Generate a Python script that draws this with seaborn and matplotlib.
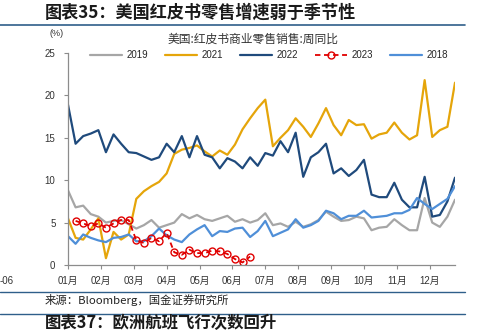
import numpy as np
import pandas as pd
import matplotlib
matplotlib.use('Agg')
import matplotlib.pyplot as plt
import seaborn as sns
from matplotlib.lines import Line2D

# ---------------- data (weekly YoY, %) ----------------
weeks = list(range(52))
weeks_2023 = list(range(1, 25))

y2019 = [8.8, 6.8, 7.0, 6.0, 5.7, 5.0, 5.2, 5.3, 4.8, 4.3, 4.7, 5.3, 4.4, 4.7, 5.0, 6.0,
         5.5, 5.9, 5.4, 5.2, 5.5, 5.8, 5.1, 5.4, 5.0, 5.3, 6.1, 4.7, 4.9, 4.5, 5.1, 4.5,
         4.8, 5.3, 6.3, 5.7, 5.2, 5.3, 5.7, 5.5, 4.1, 4.4, 4.5, 5.4, 4.7, 4.1, 4.1, 7.9,
         5.0, 4.5, 5.7, 7.7]
y2021 = [5.5, 3.2, 3.0, 4.2, 5.5, 0.8, 3.9, 3.0, 3.6, 7.8, 8.7, 9.3, 9.8, 10.8, 13.1, 13.6,
         13.8, 14.1, 13.4, 12.8, 13.5, 13.0, 14.2, 16.0, 17.3, 18.5, 19.5, 14.0, 15.0, 15.9,
         17.3, 16.3, 15.1, 16.7, 18.5, 16.5, 15.3, 17.1, 16.5, 16.6, 14.9, 15.4, 15.6, 16.8,
         15.6, 14.8, 15.3, 21.8, 15.1, 15.9, 16.3, 21.5]
y2022 = [18.9, 14.3, 15.2, 15.5, 15.9, 13.3, 15.4, 14.3, 13.3, 13.2, 12.8, 12.4, 12.7, 14.3,
         13.3, 15.2, 12.7, 15.2, 13.0, 12.7, 11.4, 12.6, 12.2, 11.4, 12.7, 11.7, 13.2, 12.9,
         14.6, 13.3, 15.6, 10.4, 12.7, 13.3, 14.3, 10.8, 11.4, 10.5, 11.2, 12.4, 8.3, 8.0,
         8.0, 9.7, 7.7, 6.8, 6.8, 10.4, 5.7, 5.9, 7.5, 10.3]
y2023 = [5.2, 4.9, 4.6, 4.9, 4.4, 4.9, 5.3, 5.3, 2.9, 2.6, 3.2, 2.8, 3.8, 1.5, 1.2, 1.8,
         1.4, 1.4, 1.7, 1.6, 1.3, 0.7, 0.3, 1.0]
y2018 = [3.4, 2.5, 3.6, 3.2, 2.9, 2.7, 3.2, 3.3, 3.6, 2.8, 2.8, 3.4, 4.3, 3.5, 3.0, 2.7,
         3.6, 4.2, 4.7, 3.4, 4.0, 3.9, 4.3, 4.4, 3.3, 4.0, 5.2, 3.4, 3.8, 4.2, 5.4, 4.4,
         4.7, 5.2, 6.4, 6.1, 5.4, 5.8, 5.8, 6.4, 5.6, 5.7, 5.8, 6.1, 6.1, 6.5, 7.9, 7.2,
         6.6, 7.2, 7.8, 9.3]

month_labels = ['01月', '02月', '03月', '04月', '05月', '06月',
                '07月', '08月', '09月', '10月', '11月', '12月']
y_ticks = [0, 5, 10, 15, 20, 25]

# ---------------- style ----------------
sns.set_theme(style='white')
plt.rcParams['font.family'] = ['Liberation Sans', 'Noto Sans CJK SC', 'DejaVu Sans']

W, H = 478, 333
fig = plt.figure(figsize=(W / 100, H / 100), dpi=100)
fig.patch.set_facecolor('white')

def fx(px):
    return px / W

def fy(py):
    return 1 - py / H

ax = fig.add_axes([fx(68), fy(265), fx(455) - fx(68), fy(53) - fy(265)])

c2019 = '#A6A6A6'
c2021 = '#E5A50A'
c2022 = '#1F4A7C'
c2023 = '#E00000'
c2018 = '#4F8FD8'

sns.lineplot(x=weeks, y=y2019, ax=ax, color=c2019, lw=1.6, label='2019')
sns.lineplot(x=weeks, y=y2021, ax=ax, color=c2021, lw=1.6, label='2021')
sns.lineplot(x=weeks, y=y2022, ax=ax, color=c2022, lw=1.6, label='2022')
sns.lineplot(x=weeks, y=y2018, ax=ax, color=c2018, lw=1.6, label='2018')
sns.lineplot(x=weeks_2023, y=y2023, ax=ax, color=c2023, lw=1.3, linestyle=(0, (3, 2)),
             marker='o', markersize=5, markerfacecolor='none',
             markeredgecolor=c2023, markeredgewidth=1.0, label='2023')

ax.set_xlim(0, 51)
ax.set_ylim(0, 25)
ax.set_yticks(y_ticks)
ax.set_yticklabels([str(v) for v in y_ticks])
ax.set_xticks([k * 52 / 12 for k in range(12)])
ax.set_xticklabels(month_labels)
ax.set_xlabel('')
ax.set_ylabel('')

for s in ['top', 'right']:
    ax.spines[s].set_visible(False)
for s in ['left', 'bottom']:
    ax.spines[s].set_color('#8C8C8C')
    ax.spines[s].set_linewidth(0.9)

ax.tick_params(axis='both', which='major', bottom=True, left=True, direction='out',
               length=3, width=0.8, color='#8C8C8C', labelsize=7, labelcolor='#333333')
ax.tick_params(axis='y', pad=6)
ax.tick_params(axis='x', pad=5)

# legend
handles, labels = ax.get_legend_handles_labels()
order = ['2019', '2021', '2022', '2023', '2018']
hmap = dict(zip(labels, handles))
ax.legend([hmap[k] for k in order], order, loc='center', ncol=5,
          bbox_to_anchor=(fx(269), fy(55)), bbox_transform=fig.transFigure,
          frameon=False, fontsize=7, handlelength=3.3, handletextpad=0.4,
          columnspacing=1.8, borderaxespad=0)

# texts
cjk = ['Noto Sans CJK SC', 'DejaVu Sans']
fig.text(fx(45), fy(13), '图表35：美国红皮书零售增速弱于季节性', fontsize=12.3,
         weight='bold', style='italic', va='center', ha='left', color='#1a1a1a', family=cjk)
fig.add_artist(Line2D([0, fx(465)], [fy(25), fy(25)], color='#2F5F8A', lw=1.2))
fig.text(fx(57), fy(34), '(%)', fontsize=6.5, ha='center', va='center', color='#333333')
fig.text(fx(253), fy(39), '美国:红皮书商业零售销售:周同比', fontsize=8.5, ha='center',
         va='center', color='#333333', family=cjk)
fig.text(fx(0), fy(281), '-06', fontsize=7, ha='left', va='center', color='#333333')

fig.add_artist(Line2D([0, fx(465)], [fy(292), fy(292)], color='#2F5F8A', lw=1.0))
fig.text(fx(45), fy(300), '来源：Bloomberg，国金证券研究所', fontsize=8.2, ha='left',
         va='center', color='#222222', family=cjk)
fig.add_artist(Line2D([0, fx(465)], [fy(314), fy(314)], color='#2F5F8A', lw=1.0))
fig.text(fx(45), fy(323), '图表37：欧洲航班飞行次数回升', fontsize=11.8,
         weight='bold', style='italic', va='center', ha='left', color='#1a1a1a', family=cjk)

fig.savefig('out.png', dpi=100, facecolor='white')
